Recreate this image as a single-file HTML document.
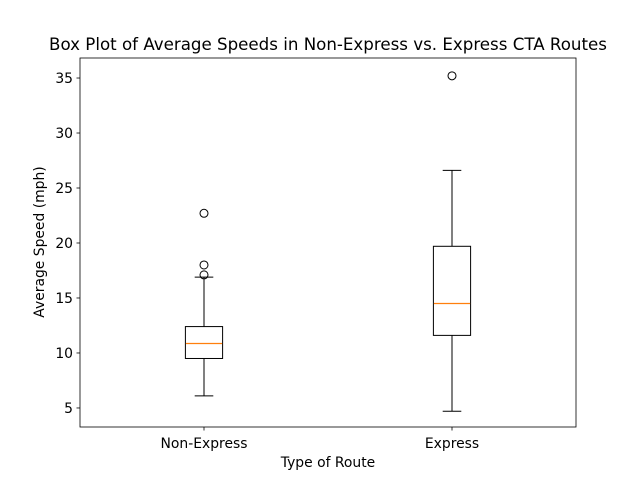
<!DOCTYPE html>
<html><head><meta charset="utf-8"><style>
body{margin:0;background:#fff;}
svg text{font-family:"DejaVu Sans","Liberation Sans",sans-serif;fill:#000;}
</style></head><body>
<svg id="chart" width="640" height="480" xmlns="http://www.w3.org/2000/svg">
<rect width="640" height="480" fill="#fff"/>
<text x="328" y="50" font-size="16.67" text-anchor="middle">Box Plot of Average Speeds in Non-Express vs. Express CTA Routes</text>
<g id="marks"></g>
<g id="axes"></g>
<rect x="80" y="58" width="496" height="369" fill="none" stroke="#000" stroke-width="0.8"/>
<text x="328" y="467" font-size="13.9" text-anchor="middle">Type of Route</text>
<text x="44" y="242" font-size="13.9" text-anchor="middle" transform="rotate(-90 44 242)">Average Speed (mph)</text>
</svg>
<script>
const categories = ["Non-Express", "Express"];
const whiskerLow = [6.1, 4.7];
const q1 = [9.5, 11.6];
const median = [10.9, 14.5];
const q3 = [12.4, 19.7];
const whiskerHigh = [16.9, 26.6];
const outliers = [[17.1, 18.0, 22.7], [35.2]];
const yTicks = [5, 10, 15, 20, 25, 30, 35];

const NS = "http://www.w3.org/2000/svg";
const L = 80, R = 576, T = 58, B = 427;
const yMin = 3.27, yMax = 36.82;
function y(v){ return B - (v - yMin) / (yMax - yMin) * (B - T); }
function x(i){ return L + (i + 1 - 0.5) / 2 * (R - L); }
const bw = 0.15 / 2 * (R - L);
function mk(tag, attrs, parent){ const e = document.createElementNS(NS, tag); for (const k in attrs) e.setAttribute(k, attrs[k]); parent.appendChild(e); return e; }
const marks = document.getElementById('marks');
const axes = document.getElementById('axes');

categories.forEach((c, i) => {
  const cx = x(i);
  const g = mk('g', {}, marks);
  
  
  mk('line', {x1: cx, x2: cx, y1: y(q1[i]), y2: y(whiskerLow[i]), stroke: '#000'}, g);
  mk('line', {x1: cx, x2: cx, y1: y(q3[i]), y2: y(whiskerHigh[i]), stroke: '#000'}, g);
  mk('line', {x1: cx - bw/4, x2: cx + bw/4, y1: y(whiskerLow[i]), y2: y(whiskerLow[i]), stroke: '#000'}, g);
  mk('line', {x1: cx - bw/4, x2: cx + bw/4, y1: y(whiskerHigh[i]), y2: y(whiskerHigh[i]), stroke: '#000'}, g);
  mk('rect', {x: cx - bw/2, y: y(q3[i]), width: bw, height: y(q1[i]) - y(q3[i]), fill: 'none', stroke: '#000'}, g);
  const my = Math.round(y(median[i])) + 0.5;
  mk('line', {x1: cx - bw/2 + 0.5, x2: cx + bw/2 - 0.5, y1: my, y2: my, stroke: '#ff7f0e', 'stroke-width': 1.2}, g);
  outliers[i].forEach(v => {
    const o = mk('circle', {cx: cx, cy: y(v), r: 4, fill: 'none', stroke: '#000'}, g);
    
    
  });
  mk('line', {x1: cx, x2: cx, y1: B, y2: B + 3.5, stroke: '#000', 'stroke-width': 0.8}, axes);
  const t = mk('text', {x: cx, y: B + 21, 'font-size': 13.9, 'text-anchor': 'middle'}, axes);
  t.textContent = c;
  
  
});
yTicks.forEach(v => {
  mk('line', {x1: L - 3.5, x2: L, y1: y(v), y2: y(v), stroke: '#000', 'stroke-width': 0.8}, axes);
  const t = mk('text', {x: L - 7, y: y(v) + 5, 'font-size': 13.9, 'text-anchor': 'end'}, axes);
  t.textContent = v;
  
  
});
</script>
</body></html>
